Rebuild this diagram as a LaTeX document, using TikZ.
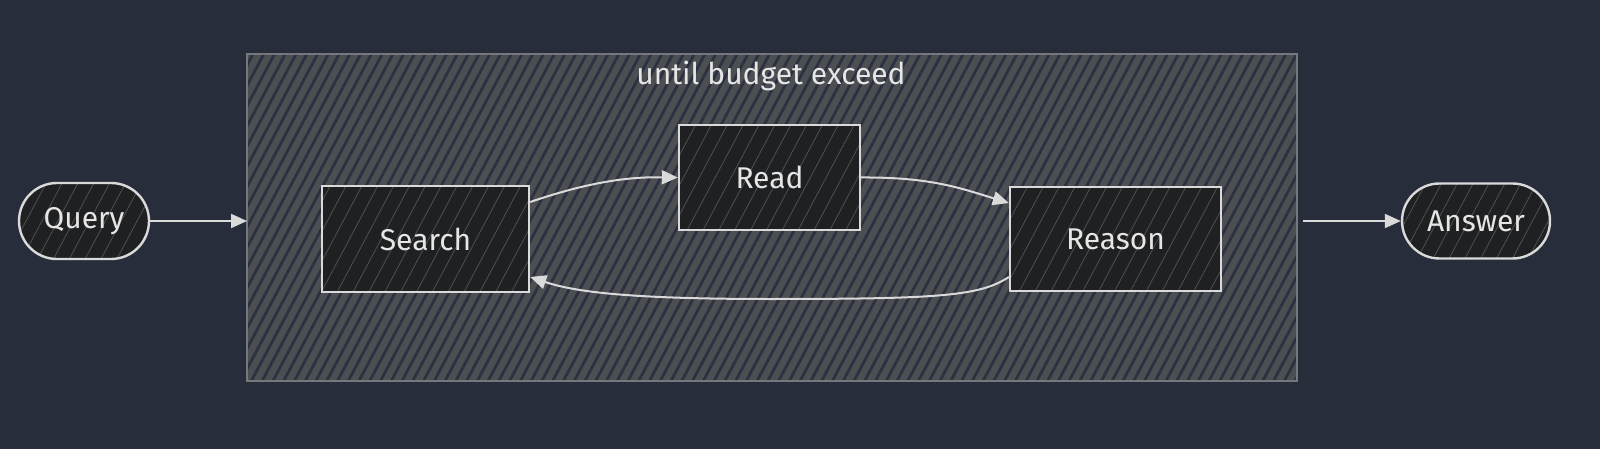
\documentclass[tikz,border=0pt]{standalone}
\usepackage{fontspec}
\setmainfont{Fira Sans}
\usetikzlibrary{arrows.meta,patterns.meta,shapes.misc}
\definecolor{bg}{HTML}{282D3B}
\definecolor{clfill}{HTML}{4C4F52}
\definecolor{clhatch}{HTML}{2C3141}
\definecolor{clborder}{HTML}{74777B}
\definecolor{nfill}{HTML}{1F2021}
\definecolor{nhatch}{HTML}{4E5052}
\definecolor{stroke}{HTML}{DADADA}
\definecolor{txt}{HTML}{E6E6E6}
\tikzset{
  hatchednode/.style={draw=stroke, line width=2.4pt,
    preaction={fill=nfill},
    pattern={Lines[angle=62,distance=14pt,line width=0.8pt]}, pattern color=nhatch,
    text=txt, font=\fontsize{30}{34}\selectfont, inner sep=0pt},
  boxnode/.style={hatchednode, rectangle},
  termnode/.style={hatchednode, rounded rectangle},
  arr/.style={draw=stroke, line width=2pt, -{Triangle[length=16pt,width=14pt]}},
}
\begin{document}
\begin{tikzpicture}[x=1pt,y=-1pt]
\useasboundingbox (0,0) rectangle (1600,449);
\fill[bg] (0,0) rectangle (1600,449);
% cluster
\path[preaction={fill=clfill}, pattern={Lines[angle=62,distance=9.5pt,line width=2.8pt]}, pattern color=clhatch]
  (247,54) rectangle (1297,381);
\draw[clborder, line width=2pt] (247,54) rectangle (1297,381);
\coordinate (clW) at (247,221);
\coordinate (clE) at (1303,221);
\node[text=txt, font=\fontsize{30}{34}\selectfont] (title) at (771,76) {until budget exceed};
% nodes
\node[termnode, minimum width=130pt, minimum height=76pt] (query) at (84,221) {Query};
\node[termnode, minimum width=148pt, minimum height=75pt] (answer) at (1476,221) {Answer};
\node[boxnode, minimum width=207pt, minimum height=106pt] (search) at (425.5,239) {Search};
\node[boxnode, minimum width=181pt, minimum height=105pt] (read) at (769.5,177.5) {Read};
\node[boxnode, minimum width=211pt, minimum height=104pt] (reason) at (1115.5,239) {Reason};
% edges
\draw[arr] (query.east) -- (clW);
\draw[arr] (clE) -- (answer.west);
\draw[arr] ([yshift=37pt]search.east) .. controls (600,178) and (640,177) .. (read.west);
\draw[arr] (read.east) .. controls (930,177) and (960,188) .. ([yshift=36pt]reason.west);
\draw[arr] ([yshift=-38pt]reason.west) .. controls (980,296) and (940,299) .. (770,299)
  .. controls (630,299) and (575,292) .. ([yshift=-38pt]search.east);
\end{tikzpicture}
\end{document}
